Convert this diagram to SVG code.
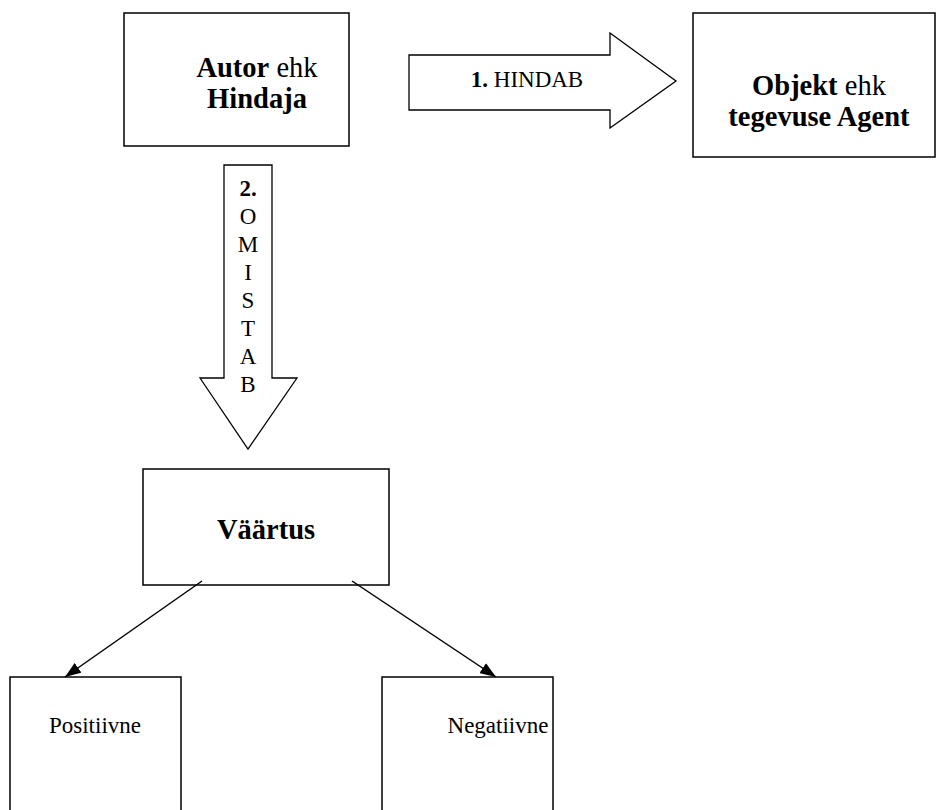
<svg xmlns="http://www.w3.org/2000/svg" width="936" height="810" viewBox="0 0 936 810">
<style>
.box{fill:#fff;stroke:#000;stroke-width:1.5}
.barrow{fill:#fff;stroke:#000;stroke-width:1.3;stroke-linejoin:miter}
.t{font-family:"Liberation Serif","Times New Roman",serif;fill:#000;text-anchor:middle}
.big{font-size:28.5px}
.sm{font-size:23px}
.b{font-weight:bold}
.conn{stroke:#000;stroke-width:1.5;fill:none}
</style>
<defs>
<marker id="ah" viewBox="0 0 16 12" refX="16" refY="6" markerWidth="16" markerHeight="12" markerUnits="userSpaceOnUse" orient="auto">
<path d="M0,0 L16,6 L0,12 Z" fill="#000"/>
</marker>
</defs>
<rect width="936" height="810" fill="#fff"/>
<g id="autor">
<rect class="box" x="124" y="13" width="225" height="133"/>
<text class="t big" x="257" y="77"><tspan class="b">Autor</tspan> ehk</text>
<text class="t big b" x="257" y="108">Hindaja</text>
</g>
<g id="objekt">
<rect class="box" x="693" y="13" width="242" height="144"/>
<text class="t big" x="819" y="95"><tspan class="b">Objekt</tspan> ehk</text>
<text class="t big b" x="819" y="126">tegevuse Agent</text>
</g>
<g id="vaartus">
<rect class="box" x="143" y="469" width="246" height="116"/>
<text class="t big b" x="266" y="539">Väärtus</text>
</g>
<g id="positiivne">
<rect class="box" x="10" y="677" width="171" height="140"/>
<text class="t sm" x="95" y="733">Positiivne</text>
</g>
<g id="negatiivne">
<rect class="box" x="382" y="677" width="171" height="140"/>
<text class="t sm" x="498" y="733">Negatiivne</text>
</g>
<g id="connectors">
<g id="hindab">
<path class="barrow" d="M409,55 L610,55 L610,33 L676,81 L610,128 L610,110 L409,110 Z"/>
<text class="t sm" x="527" y="87"><tspan class="b">1.</tspan> HINDAB</text>
</g>
<g id="omistab">
<path class="barrow" d="M224,165 L272,165 L272,378 L297,378 L248,449 L200,378 L224,378 Z"/>
<text class="t sm" x="248"><tspan class="b" x="248" y="196">2.</tspan><tspan x="248" y="224">O</tspan><tspan x="248" y="252">M</tspan><tspan x="248" y="280">I</tspan><tspan x="248" y="308">S</tspan><tspan x="248" y="336">T</tspan><tspan x="248" y="364">A</tspan><tspan x="248" y="392">B</tspan></text>
</g>
<line class="conn" x1="202" y1="581" x2="65" y2="677" marker-end="url(#ah)"/>
<line class="conn" x1="352" y1="581" x2="496" y2="677" marker-end="url(#ah)"/>
</g>
</svg>
